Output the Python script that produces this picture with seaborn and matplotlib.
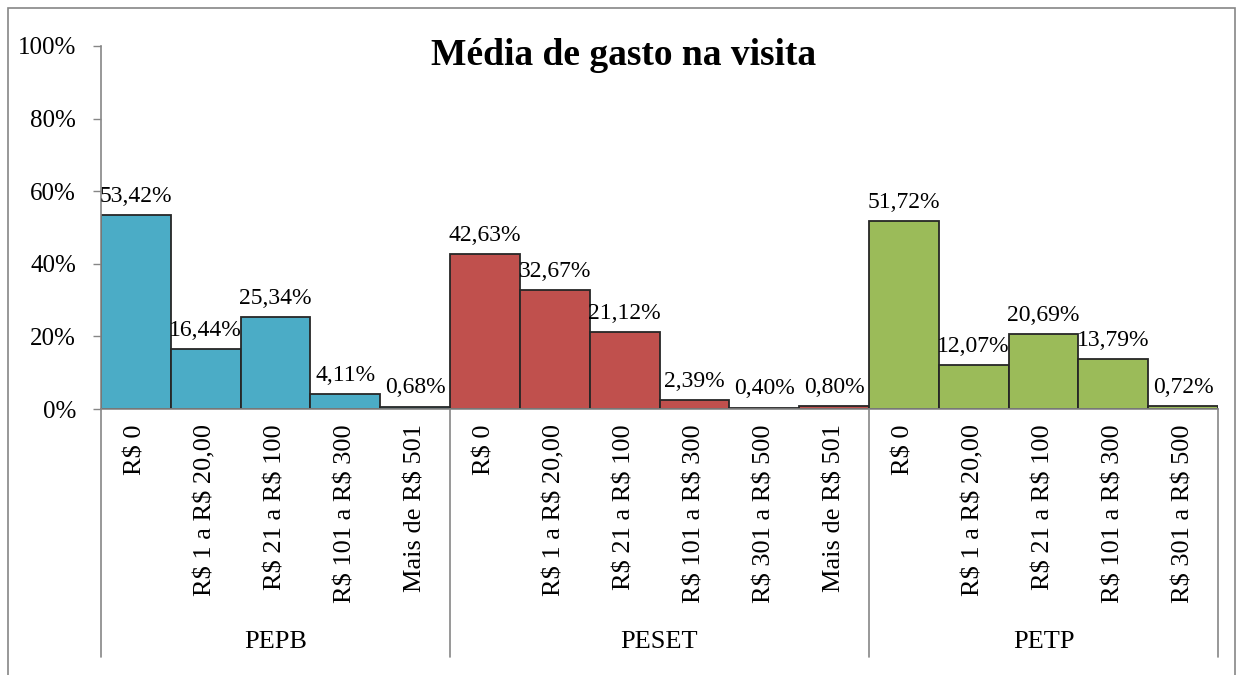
import matplotlib
matplotlib.use("Agg")
import matplotlib.pyplot as plt
import matplotlib.transforms as mtransforms
from matplotlib.patches import Rectangle
import seaborn as sns
import pandas as pd

# =============================
# DATA
# =============================
groups = ["PEPB", "PESET", "PETP"]

pepb_cats = ["R$ 0", "R$ 1 a R$ 20,00", "R$ 21 a R$ 100", "R$ 101 a R$ 300", "Mais de R$ 501"]
pepb_vals = [53.42, 16.44, 25.34, 4.11, 0.68]

peset_cats = ["R$ 0", "R$ 1 a R$ 20,00", "R$ 21 a R$ 100", "R$ 101 a R$ 300", "R$ 301 a R$ 500", "Mais de R$ 501"]
peset_vals = [42.63, 32.67, 21.12, 2.39, 0.40, 0.80]

petp_cats = ["R$ 0", "R$ 1 a R$ 20,00", "R$ 21 a R$ 100", "R$ 101 a R$ 300", "R$ 301 a R$ 500"]
petp_vals = [51.72, 12.07, 20.69, 13.79, 0.72]

colors = ["#4BACC6", "#C0504D", "#9BBB59"]

# build long table
rows = []
for g, cats, vals in zip(groups, [pepb_cats, peset_cats, petp_cats], [pepb_vals, peset_vals, petp_vals]):
    for c, v in zip(cats, vals):
        rows.append({"grupo": g, "faixa": c, "key": g + "|" + c, "valor": v})
df = pd.DataFrame(rows)

# =============================
# PLOT
# =============================
sns.set_style("white")
SERIF = ["Liberation Serif", "DejaVu Serif"]
plt.rcParams["font.family"] = SERIF
plt.rcParams["text.parse_math"] = False   # R$ is not mathtext
plt.rcParams["text.color"] = "black"
plt.rcParams["xtick.color"] = "black"
plt.rcParams["ytick.color"] = "black"

fig = plt.figure(figsize=(12.4, 6.75), dpi=100)
ax = fig.add_axes([101 / 1240, 1 - 409 / 675, (1218 - 101) / 1240, (409 - 46) / 675])

sns.barplot(data=df, x="key", y="valor", hue="grupo", palette=colors, saturation=1,
            dodge=False, width=1.0, edgecolor="#262626", linewidth=1.3,
            legend=False, ax=ax)

ax.set_ylim(0, 100)
ax.set_xlim(-0.5, len(df) - 0.5)
ax.set_yticks([0, 20, 40, 60, 80, 100])
ax.set_yticklabels([f"{t}%" for t in [0, 20, 40, 60, 80, 100]], fontsize=18, family=SERIF)
ax.set_xticks(range(len(df)))
ax.set_xticklabels(df["faixa"], rotation=90, fontsize=19, va="top", ha="center", family=SERIF)
ax.set_xlabel("")
ax.set_ylabel("")

ax.tick_params(axis="y", length=6, width=1, color="#868686", pad=12, left=True)
ax.tick_params(axis="x", length=0, pad=11)

for s in ["top", "right"]:
    ax.spines[s].set_visible(False)
for s in ["left", "bottom"]:
    ax.spines[s].set_color("#868686")
    ax.spines[s].set_linewidth(1.2)

# data labels
for cont in ax.containers:
    ax.bar_label(cont, fmt=lambda v: f"{v:.2f}%".replace(".", ","), padding=6,
                 fontsize=17, family=SERIF)

# group separators and group labels
trans = mtransforms.blended_transform_factory(ax.transData, ax.transAxes)
sizes = df.groupby("grupo", sort=False).size().tolist()
edges = [-0.5]
for n in sizes:
    edges.append(edges[-1] + n)
for x in edges:
    ax.plot([x, x], [0, -0.683], transform=trans, color="#868686", lw=1.2, clip_on=False)
for g, a, b in zip(groups, edges[:-1], edges[1:]):
    ax.text((a + b) / 2, -0.642, g, transform=trans, ha="center", va="center",
            fontsize=19, family=SERIF)

fig.text(0.503, 0.918, "Média de gasto na visita", ha="center", va="center",
         fontsize=27, fontweight="bold", family=SERIF)

# chart border
fig.patches.append(Rectangle((8 / 1240, -0.05), (1235 - 8) / 1240, 1 - 8 / 675 + 0.05,
                             transform=fig.transFigure, fill=False,
                             edgecolor="#868686", lw=1.2))

fig.savefig("out.png", dpi=100)
plt.close(fig)
